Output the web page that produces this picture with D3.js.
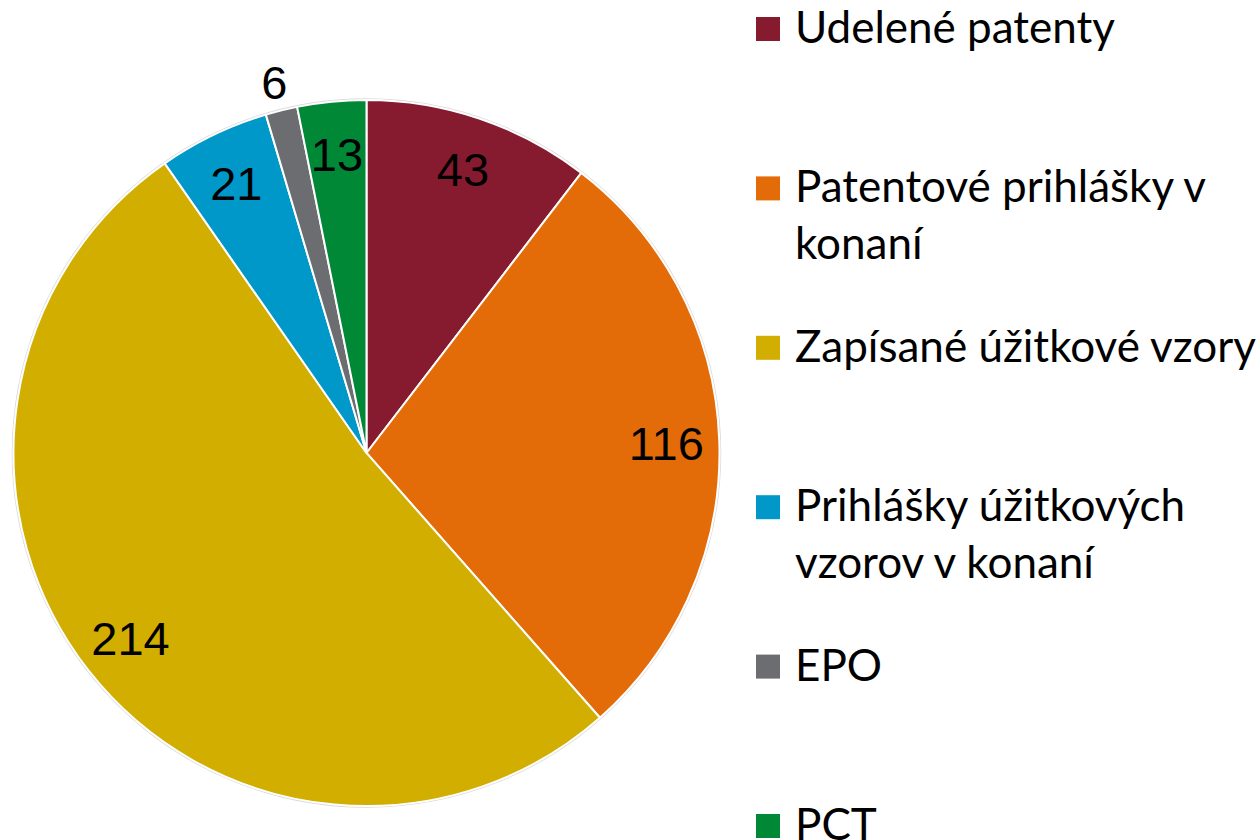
<!DOCTYPE html>
<html>
<head>
<meta charset="utf-8">
<script src="https://cdn.jsdelivr.net/npm/d3@7"></script>
<style>
  body { margin: 0; background: #fff; }
  svg { display: block; }
</style>
</head>
<body>
<div id="chartPlaceholder"></div>
<script>
const categories = [
  "Udelené patenty",
  "Patentové prihlášky v konaní",
  "Zapísané úžitkové vzory",
  "Prihlášky úžitkových vzorov v konaní",
  "EPO",
  "PCT",
];
const values = [43, 116, 214, 21, 6, 13];
const colors = ["#861a2f", "#e36c09", "#d2ae00", "#0097c9", "#6c6d70", "#008837"];
// legend text split in lines as in the original
const legendLines = [
  ["Udelené patenty"],
  ["Patentové prihlášky v", "konaní"],
  ["Zapísané úžitkové vzory"],
  ["Prihlášky úžitkových", "vzorov v konaní"],
  ["EPO"],
  ["PCT"],
];

const width = 1260,
  height = 840;
const cx = 366.5,
  cy = 453,
  radius = 353;

const svg = d3
  .select("#chartPlaceholder")
  .append("svg")
  .attr("width", width)
  .attr("height", height);

const data = categories.map((name, i) => ({ name, value: values[i], color: colors[i] }));

const pie = d3.pie().sort(null).value((d) => d.value);
const arcs = pie(data);

const arc = d3.arc().innerRadius(0).outerRadius(radius);
const labelArc = d3.arc().innerRadius(300).outerRadius(300);
const outerLabelArc = d3.arc().innerRadius(382).outerRadius(382);

const g = svg.append("g").attr("transform", `translate(${cx}, ${cy})`);

// faint shadow ring around the pie
g.append("circle")
  .attr("r", radius + 1)
  .style("fill", "none")
  .style("stroke", "#d9d9d9")
  .style("stroke-width", 1.5);

g.selectAll("path.slice")
  .data(arcs)
  .join("path")
  .attr("class", "slice")
  .attr("d", arc)
  .style("fill", (d) => d.data.color)
  .style("stroke", "#fff")
  .style("stroke-width", 2);

g.selectAll("text.value")
  .data(arcs)
  .join("text")
  .attr("class", "value")
  .attr("transform", (d) => {
    // the tiny EPO slice gets its label outside
    const p = d.data.value < 10 ? outerLabelArc.centroid(d) : labelArc.centroid(d);
    return `translate(${p[0]}, ${p[1]})`;
  })
  .attr("text-anchor", "middle")
  .attr("dy", "0.36em")
  .style("font-family", "'Liberation Sans', Arial, sans-serif")
  .style("font-size", "47px")
  .style("fill", "#000")
  .text((d) => d.data.value);

// legend
const legend = svg.append("g").attr("transform", "translate(756, 0)");
const itemY = d3.scaleLinear().domain([0, categories.length - 1]).range([43, 840]);

const items = legend
  .selectAll("g.item")
  .data(data)
  .join("g")
  .attr("class", "item")
  .attr("transform", (d, i) => `translate(0, ${itemY(i)})`);

items
  .append("rect")
  .attr("x", 0)
  .attr("y", -26)
  .attr("width", 24)
  .attr("height", 24)
  .style("fill", (d) => d.color);

items
  .append("text")
  .attr("x", 39)
  .style("font-family", "Lato, 'Open Sans', sans-serif")
  .style("font-size", "44px")
  .style("fill", "#000")
  .selectAll("tspan")
  .data((d, i) => legendLines[i])
  .join("tspan")
  .attr("x", 39)
  .attr("y", (d, j) => j * 57)
  .text((d) => d);
</script>
</body>
</html>
